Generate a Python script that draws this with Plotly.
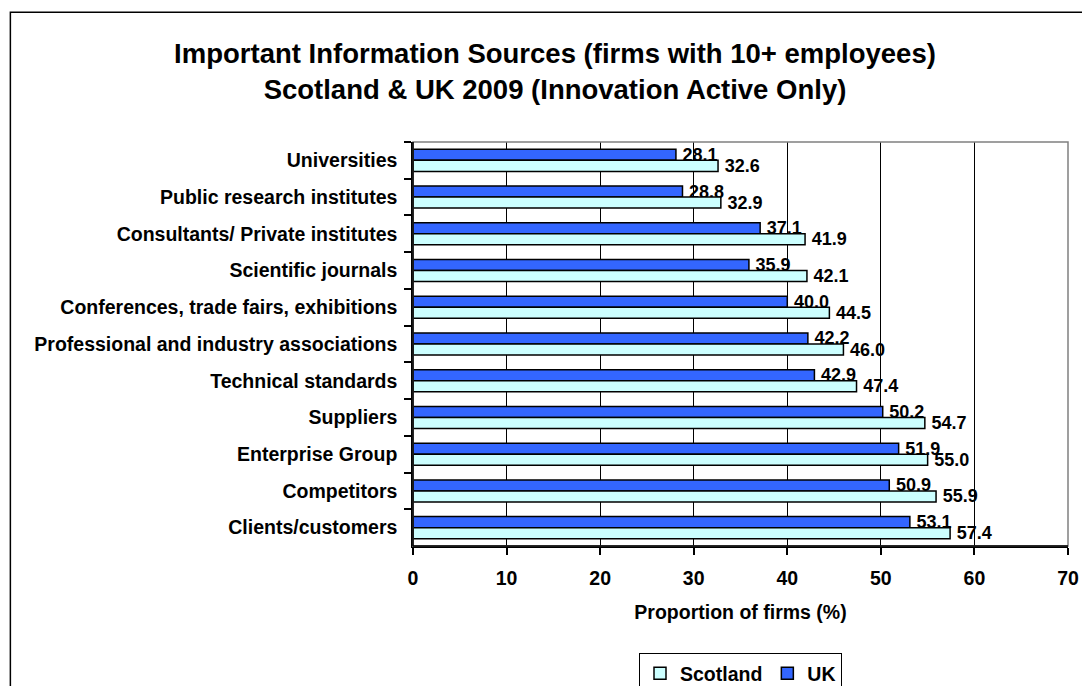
import plotly.graph_objects as go

# Information sources, listed top to bottom as shown on the chart
categories = [
    "Universities",
    "Public research institutes",
    "Consultants/ Private institutes",
    "Scientific journals",
    "Conferences, trade fairs, exhibitions",
    "Professional and industry associations",
    "Technical standards",
    "Suppliers",
    "Enterprise Group",
    "Competitors",
    "Clients/customers",
]
uk_values = [28.1, 28.8, 37.1, 35.9, 40.0, 42.2, 42.9, 50.2, 51.9, 50.9, 53.1]
scotland_values = [32.6, 32.9, 41.9, 42.1, 44.5, 46.0, 47.4, 54.7, 55.0, 55.9, 57.4]
x_ticks = [0, 10, 20, 30, 40, 50, 60, 70]

FONT = "Arial, Liberation Sans, Arimo, sans-serif"
LBL = 19.5   # axis / legend text
VAL = 18     # value labels


def bold(size):
    return dict(family=FONT, size=size, color="#000000", weight="bold")


fig = go.Figure()
fig.add_trace(go.Bar(
    name="UK", y=categories, x=uk_values, orientation="h",
    marker=dict(color="#3366FF", line=dict(color="#000000", width=1.5)),
    texttemplate="\u2009%{x:.1f}", textposition="outside", constraintext="none",
    cliponaxis=False, textfont=bold(VAL),
))
fig.add_trace(go.Bar(
    name="Scotland", y=categories, x=scotland_values, orientation="h",
    marker=dict(color="#CCFFFF", line=dict(color="#000000", width=1.5)),
    texttemplate="\u2009%{x:.1f}", textposition="outside", constraintext="none",
    cliponaxis=False, textfont=bold(VAL),
))

fig.update_layout(
    width=1082, height=686,
    margin=dict(l=413, r=14, t=142, b=140, autoexpand=False),
    paper_bgcolor="#ffffff", plot_bgcolor="#ffffff",
    barmode="group", bargap=0.4, bargroupgap=0,
    font=bold(LBL),
    title=dict(
        text="Important Information Sources (firms with 10+ employees)<br>"
             "Scotland &amp; UK 2009 (Innovation Active Only)",
        font=bold(27.5),
        x=555 / 1082, xanchor="center", xref="container",
        y=1 - 38 / 686, yanchor="top", yref="container",
        pad=dict(t=25),
    ),
    showlegend=True,
    legend=dict(
        orientation="h", traceorder="reversed",
        x=0.5, xanchor="center", y=-0.265, yanchor="top",
        bordercolor="#000000", borderwidth=1, bgcolor="#ffffff",
        font=bold(LBL), tracegroupgap=0,
    ),
    xaxis=dict(
        range=[0, 70], tickvals=x_ticks, ticktext=[str(v) for v in x_ticks],
        showgrid=True, gridcolor="#000000", gridwidth=1,
        showline=True, linecolor="#000000", linewidth=1.5,
        ticks="outside", ticklen=7, tickcolor="#000000", tickwidth=1.5,
        ticklabelstandoff=7, zeroline=False,
        tickfont=bold(LBL),
        title=dict(text="Proportion of firms (%)", standoff=17, font=bold(LBL)),
    ),
    yaxis=dict(
        autorange="reversed", type="category",
        showgrid=False, showline=True, linecolor="#000000", linewidth=1.5,
        ticks="outside", ticklen=7, tickcolor="#000000", tickwidth=1.5,
        tickson="boundaries", ticklabelstandoff=10,
        tickfont=bold(LBL),
    ),
    shapes=[
        # grey plot-area border on the top and right
        dict(type="rect", xref="paper", yref="paper", x0=0, x1=1, y0=0, y1=1,
             line=dict(color="#808080", width=1.5), layer="above"),
        # outer chart frame
        dict(type="rect", xref="paper", yref="paper",
             x0=(10 - 413) / 655.6, x1=1.2, y0=-0.6, y1=(546 - 13) / 403.4,
             line=dict(color="#000000", width=1.5), layer="below"),
        # left and bottom axis lines in black over the grey border
        dict(type="line", xref="paper", yref="paper", x0=0, x1=0, y0=0, y1=1,
             line=dict(color="#000000", width=1.5), layer="above"),
        dict(type="line", xref="paper", yref="paper", x0=0, x1=1, y0=0, y1=0,
             line=dict(color="#000000", width=1.5), layer="above"),
    ],
)

fig.write_html("out.html")
